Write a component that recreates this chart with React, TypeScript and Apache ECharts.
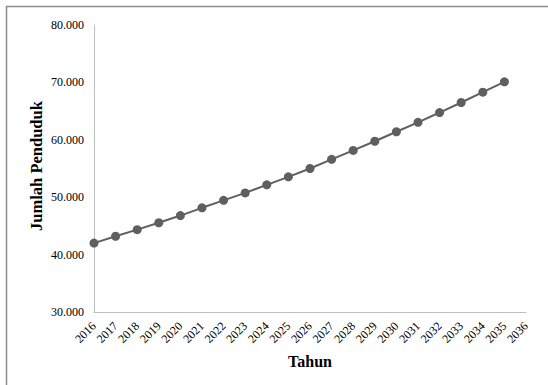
import React, { useEffect, useRef } from "react";
import * as echarts from "echarts";

const years = ["2016","2017","2018","2019","2020","2021","2022","2023","2024","2025","2026","2027","2028","2029","2030","2031","2032","2033","2034","2035","2036"];
const population = [42000, 43200, 44350, 45550, 46800, 48150, 49450, 50750, 52150, 53550, 55000, 56600, 58150, 59750, 61400, 63050, 64750, 66500, 68300, 70100];
const yTicks = { min: 30000, max: 80000, interval: 10000 };

const fmt = (v: number) => {
  const s = Math.round(v).toString();
  return s.replace(/\B(?=(\d{3})+(?!\d))/g, ".");
};

export default function App() {
  const ref = useRef<HTMLDivElement>(null);
  useEffect(() => {
    document.body.style.margin = "0";
    const chart = echarts.init(ref.current!, null, { renderer: "svg" });
    const font = "'Liberation Serif', 'Times New Roman', serif";
    chart.setOption({
      animation: false,
      backgroundColor: "#ffffff",
      textStyle: { fontFamily: font },
      grid: { left: 94, right: 22, top: 25, bottom: 73, containLabel: false },
      graphic: [
        {
          type: "rect",
          shape: { x: 6.5, y: 6.5, width: 700, height: 700 },
          style: { fill: "none", stroke: "#8c8c8c", lineWidth: 1.5 },
          silent: true,
        },
        {
          type: "text",
          x: 36,
          y: 166,
          rotation: Math.PI / 2,
          style: {
            text: "Jumlah Penduduk",
            font: `bold 16.5px ${font}`,
            fill: "#000",
            align: "center",
            verticalAlign: "middle",
          },
        },
        {
          type: "text",
          x: 310,
          y: 361,
          style: {
            text: "Tahun",
            font: `bold 16px ${font}`,
            fill: "#000",
            align: "center",
            verticalAlign: "middle",
          },
        },
      ],
      xAxis: {
        type: "category",
        data: years,
        boundaryGap: false,
        axisLine: { lineStyle: { color: "#bfbfbf", width: 1 } },
        axisTick: { show: false },
        axisLabel: {
          rotate: 45,
          interval: 0,
          fontSize: 12,
          color: "#000",
          fontFamily: font,
          margin: 12,
        },
        splitLine: { show: false },
      },
      yAxis: {
        type: "value",
        min: yTicks.min,
        max: yTicks.max,
        interval: yTicks.interval,
        axisLine: { show: true, lineStyle: { color: "#bfbfbf", width: 1 } },
        axisTick: { show: false },
        splitLine: { show: false },
        axisLabel: {
          formatter: (v: number) => fmt(v),
          fontSize: 12,
          color: "#000",
          fontFamily: font,
          margin: 10,
        },
      },
      series: [
        {
          type: "line",
          data: population,
          symbol: "circle",
          symbolSize: 9,
          lineStyle: { color: "#5f5f5f", width: 2 },
          itemStyle: { color: "#5f5f5f" },
        },
      ],
    });
    return () => chart.dispose();
  }, []);
  return <div ref={ref} style={{ width: 548, height: 385 }} />;
}
